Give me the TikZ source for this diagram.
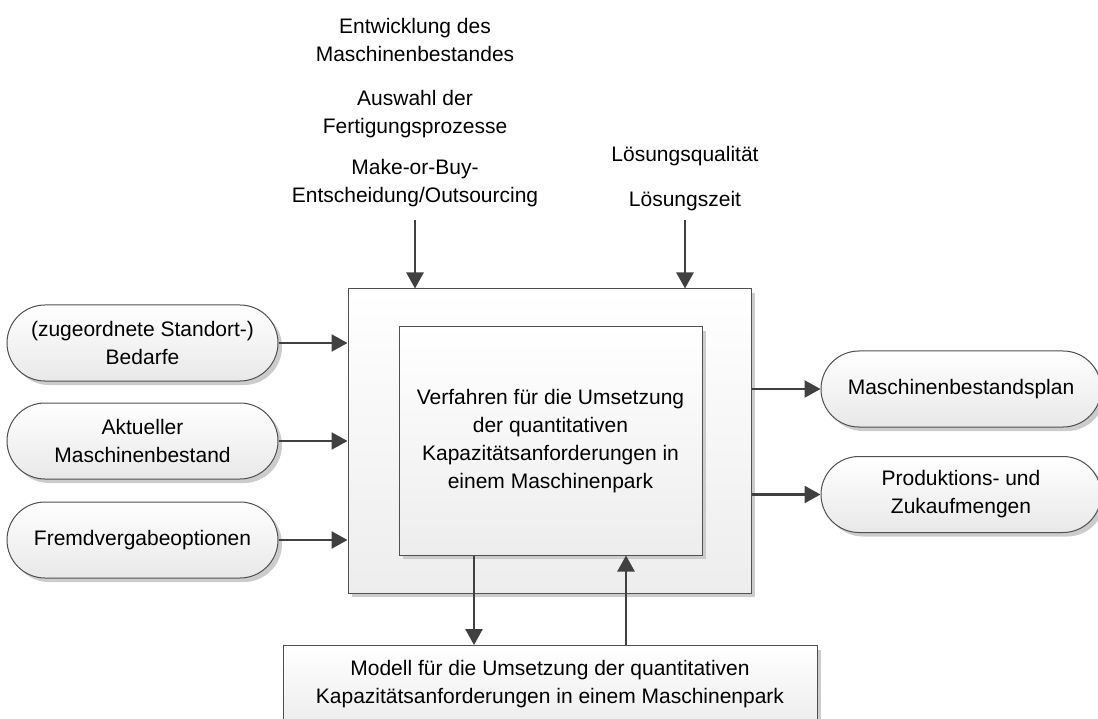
\documentclass[tikz,border=0pt]{standalone}
\usepackage{fontspec}
\setmainfont{Liberation Sans}
\usetikzlibrary{arrows.meta,shadows,shapes.misc}
\definecolor{linegray}{HTML}{404040}
\definecolor{edgegray}{HTML}{505050}
\begin{document}
\begin{tikzpicture}[x=1pt,y=-1pt,
  txt/.style={font=\fontsize{21}{28}\selectfont, align=center, inner sep=0pt},
  shadowed/.style={drop shadow={shadow xshift=4pt, shadow yshift=-4pt, fill=black!20, opacity=1}},
  box/.style={rectangle, draw=edgegray, line width=1pt, top color=white, bottom color=black!7, shadowed},
  pill/.style={rounded rectangle, draw=edgegray, line width=1pt, top color=white, bottom color=black!9,
    shadowed, minimum height=76pt, txt},
  arr/.style={draw=linegray, line width=2.5pt, -{Triangle[length=16pt,width=17pt]}}
]
\useasboundingbox (0,0) rectangle (1098,719);
\clip (0,0) rectangle (1098,719);

% central process and its method
\node[box, minimum width=403pt, minimum height=304pt] (outer) at (549.5,441) {};
\node[box, txt, minimum width=303pt, minimum height=228pt] (inner) at (550.5,441)
  {Verfahren für die Umsetzung\\der quantitativen\\Kapazitätsanforderungen in\\einem Maschinenpark};
\node[box, txt, anchor=north, minimum width=534pt, minimum height=78pt] (model) at (550,645)
  {Modell für die Umsetzung der quantitativen\\Kapazitätsanforderungen in einem Maschinenpark};

% controls
\node[txt, anchor=north] (ent) at (415,18) {Entwicklung des\\Maschinenbestandes};
\node[txt, anchor=north] (ausw) at (415,90) {Auswahl der\\Fertigungsprozesse};
\node[txt, anchor=north] (mob) at (415,159) {Make-or-Buy-\\Entscheidung/Outsourcing};
\node[txt, anchor=base] (lq) at (685,162) {Lösungsqualität};
\node[txt, anchor=base] (lz) at (685,207) {Lösungszeit};
\coordinate (mobtail) at (415,220);
\coordinate (lztail) at (685,220);
\draw[arr] (mobtail) -- (mobtail |- outer.north);
\draw[arr] (lztail) -- (lztail |- outer.north);

% inputs
\node[pill, minimum width=271pt] (bed) at (142.5,343) {(zugeordnete Standort-)\\Bedarfe};
\node[pill, minimum width=271pt] (akt) at (142.5,441) {Aktueller\\Maschinenbestand};
\node[pill, minimum width=271pt] (fre) at (142.5,540) {Fremdvergabeoptionen};
\draw[arr] (bed.east) -- (bed.east -| outer.west);
\draw[arr] (akt.east) -- (akt.east -| outer.west);
\draw[arr] (fre.east) -- (fre.east -| outer.west);

% outputs
\node[pill, minimum width=280pt] (plan) at (961,389) {Maschinenbestandsplan};
\node[pill, minimum width=280pt] (menge) at (961,494.5) {Produktions- und\\Zukaufmengen};
\draw[arr] (outer.east |- plan.west) -- (plan.west);
\draw[arr] (outer.east |- menge.west) -- (menge.west);

% exchange between method and model
\coordinate (dn) at (474,0);
\coordinate (up) at (626,0);
\draw[arr] (dn |- inner.south) -- (dn |- model.north);
\draw[arr] (up |- model.north) -- (up |- inner.south);
\end{tikzpicture}
\end{document}
